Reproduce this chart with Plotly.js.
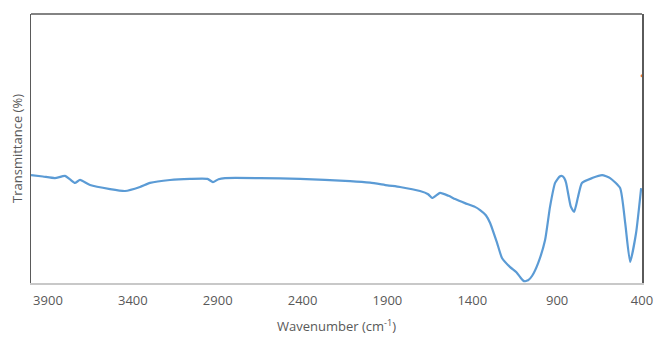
<!DOCTYPE html>
<html>
<head>
<meta charset="utf-8">
<script src="https://cdn.plot.ly/plotly-3.0.1.min.js"></script>
<style>html,body{margin:0;padding:0;background:#fff;}#chart{width:654px;height:338px;}</style>
</head>
<body>
<div id="chart"></div>
<script>
const wavenumber = [4000, 3930, 3859, 3800, 3770, 3741, 3711, 3652, 3534, 3446, 3358, 3299, 3181, 3063, 2960, 2928, 2895, 2857, 2651, 2415, 2120, 2002, 1900, 1826, 1708, 1660, 1637, 1590, 1540, 1501, 1443, 1384, 1354, 1320, 1295, 1254, 1225, 1177, 1140, 1118, 1095, 1071, 1048, 1012, 971, 942, 912, 885, 871, 858, 847, 820, 800, 777, 754, 694, 635, 588, 529, 499, 470, 435, 405];
const transmittance = [40.1, 39.6, 39.0, 39.8, 38.5, 37.2, 38.3, 36.4, 34.9, 34.2, 35.7, 37.2, 38.3, 38.7, 38.7, 37.5, 38.6, 39.0, 39.0, 38.7, 37.9, 37.3, 36.3, 35.7, 34.2, 33.0, 31.6, 33.5, 32.4, 31.2, 29.7, 28.3, 27.1, 25.2, 22.3, 14.9, 9.3, 5.9, 4.0, 2.2, 0.7, 1.0, 2.6, 7.4, 16.0, 28.3, 37.2, 39.6, 39.8, 39.0, 37.2, 28.5, 26.4, 32.0, 37.2, 39.0, 40.1, 39.0, 35.3, 22.3, 7.8, 18.6, 35.3];
const xTitle = "Wavenumber (cm<sup>-1</sup>)";
const yTitle = "Transmittance (%)";
const stray = {x: [400], y: [77]};

const trace = {
  x: wavenumber, y: transmittance, type: 'scatter', mode: 'lines',
  line: {color: '#5b9bd5', width: 2.2, shape: 'spline', smoothing: 0.5},
  hoverinfo: 'none'
};
const strayTrace = {
  x: stray.x, y: stray.y, type: 'scatter', mode: 'markers',
  marker: {color: '#ed7d31', size: 3}, cliponaxis: false, hoverinfo: 'none'
};
const font = {family: '"Open Sans", "Noto Sans", sans-serif', color: '#595959', size: 13};
Plotly.newPlot('chart', [trace, strayTrace], {
  width: 654, height: 338,
  margin: {l: 31, r: 12, t: 14, b: 55},
  paper_bgcolor: '#fff', plot_bgcolor: '#fff',
  showlegend: false,
  font: font,
  xaxis: {
    range: [4000, 400], tick0: 400, dtick: 500, showgrid: false, zeroline: false,
    showline: true, linecolor: '#c8c8c8', linewidth: 1.5, ticks: '',
    ticklabelstandoff: 5,
    tickfont: {family: font.family, color: '#595959', size: 13},
    title: {text: xTitle, font: {family: font.family, color: '#595959', size: 13}, standoff: 14}
  },
  yaxis: {
    range: [0, 100], showgrid: false, zeroline: false, showticklabels: false, ticks: '',
    showline: true, mirror: true, linecolor: '#5a5a5a', linewidth: 1.5,
    title: {text: yTitle, font: {family: font.family, color: '#595959', size: 13}, standoff: 4}
  },
  shapes: [{type: 'line', xref: 'paper', yref: 'paper', x0: 0, x1: 1, y0: 1, y1: 1,
            line: {color: '#5a5a5a', width: 1.5}}]
}, {staticPlot: true});
</script>
</body>
</html>
